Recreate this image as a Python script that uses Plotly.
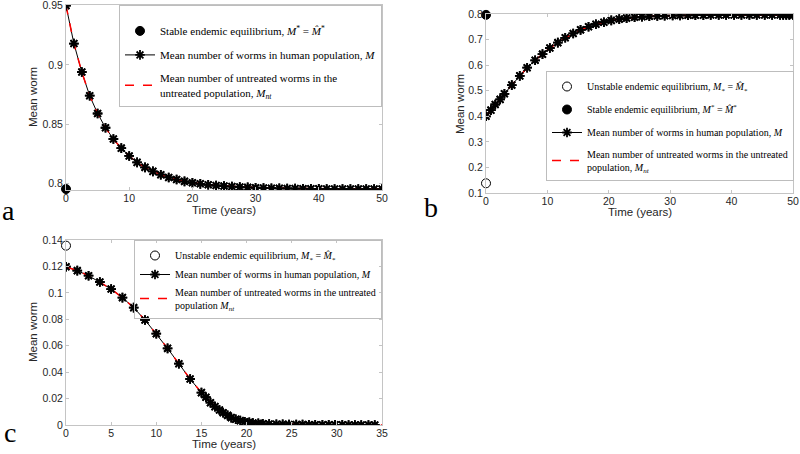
import plotly.graph_objects as go

# ---------------- data ----------------
a_t = [0, 1.25, 2.5, 3.75, 5, 6.25, 7.5, 8.75, 10, 11.25, 12.5, 13.75, 15, 16.25, 17.5, 18.75,
       20, 21.25, 22.5, 23.75, 25, 26.25, 27.5, 28.75, 30, 31.25, 32.5, 33.75, 35, 36.25, 37.5,
       38.75, 40, 41.25, 42.5, 43.75, 45, 46.25, 47.5, 48.75, 50]
a_M = [0.950, 0.918, 0.894, 0.874, 0.859, 0.847, 0.8375, 0.8298, 0.8232, 0.8178, 0.8136, 0.8102,
       0.8074, 0.8051, 0.8033, 0.8018, 0.8006, 0.7997, 0.7989, 0.7983, 0.7978, 0.7974, 0.7970,
       0.7967, 0.7964, 0.7962, 0.7960, 0.7959, 0.7958, 0.7957, 0.7956, 0.7955, 0.7955, 0.7954,
       0.7954, 0.7953, 0.7953, 0.7953, 0.7953, 0.7953, 0.7953]
a_Mstar = 0.7953

b_t = [0, 0.8, 1.5, 2.3, 3.0, 4.2, 5.5, 6.7, 8.0, 9.2, 10.4, 11.7, 12.9, 14.2, 15.4, 16.7, 17.9,
       19.2, 20.4, 21.7, 22.9, 24.2, 25.4, 26.6, 27.9, 29.1, 30.4, 31.6, 32.9, 34.1, 35.4, 36.6,
       37.9, 39.1, 40.4, 41.6, 42.9, 44.1, 45.4, 46.6, 47.9, 48.4, 48.9, 49.4, 50.0]
b_M = [0.400, 0.424, 0.446, 0.466, 0.488, 0.522, 0.558, 0.590, 0.619, 0.643, 0.667, 0.688, 0.707,
       0.724, 0.738, 0.750, 0.760, 0.768, 0.775, 0.780, 0.784, 0.787, 0.789, 0.791, 0.792, 0.793,
       0.794, 0.7945, 0.795, 0.7953, 0.7956, 0.7958, 0.796, 0.7961, 0.7962, 0.7963, 0.7964,
       0.7964, 0.7965, 0.7965, 0.7965, 0.7966, 0.7966, 0.7966, 0.7966]
b_Mstar = 0.7966
b_Mlow = 0.138

c_t = [0, 1.25, 2.5, 3.75, 5, 6.25, 7.5, 8.75, 10, 11.25, 12.5, 13.75, 15.0, 15.5, 16.0, 16.5,
       17.0, 17.4, 17.9, 18.3, 18.8, 19.3, 19.8, 20.3, 20.7, 21.3, 21.8, 22.5, 23.3, 24.0, 24.7,
       25.5, 26.2, 26.9, 27.6, 28.4, 29.1, 29.8, 30.6, 31.3, 32.0, 32.7, 33.5, 34.2]
c_M = [0.1198, 0.1168, 0.1130, 0.1082, 0.1029, 0.0964, 0.0888, 0.0795, 0.0691, 0.0580, 0.0464,
       0.0348, 0.0245, 0.0210, 0.0169, 0.0139, 0.0114, 0.0093, 0.0073, 0.0056, 0.0043, 0.0033,
       0.0025, 0.0020, 0.0015, 0.0012, 0.0010, 0.0008, 0.0006, 0.0005, 0.0004, 0.0003, 0.0003,
       0.0002, 0.0002, 0.0001, 0.0001, 0.0001, 0.0001, 0, 0, 0, 0, 0]
c_tail_t = [35]
c_tail_M = [0]
c_Mlow = 0.1357

a_xticks = [0, 10, 20, 30, 40, 50]
a_yticks = [0.8, 0.85, 0.9, 0.95]
b_xticks = [0, 10, 20, 30, 40, 50]
b_yticks = [0.1, 0.2, 0.3, 0.4, 0.5, 0.6, 0.7, 0.8]
c_xticks = [0, 5, 10, 15, 20, 25, 30, 35]
c_yticks = [0, 0.02, 0.04, 0.06, 0.08, 0.1, 0.12, 0.14]

lab_stable = "Stable endemic equilibrium, <i>M</i><sup>*</sup> = <i>M&#770;</i><sup>*</sup>"
lab_unstable = "Unstable endemic equilibrium, <i>M</i><sub>*</sub> = <i>M&#770;</i><sub>*</sub>"
lab_M = "Mean number of worms in human population, <i>M</i>"
lab_nt_a = "Mean number of untreated worms in the<br>untreated population, <i>M</i><sub><i>nt</i></sub>"
lab_nt_b = "Mean number of untreated worms in the untreated<br>population, <i>M</i><sub><i>nt</i></sub>"
lab_nt_c = "Mean number of untreated worms in the untreated<br>population <i>M</i><sub><i>nt</i></sub>"

W, H = 800, 454
def px(x):
    return x / W
def py(y):
    return 1 - y / H

fig = go.Figure()

STAR = dict(symbol="asterisk", size=8, line=dict(color="black", width=1.8))

def add_panel(xa, ya, leg, t, M, nt_t, nt_M, nt_label, eq_list):
    fig.add_trace(go.Scatter(x=t, y=M, mode="lines+markers", name=lab_M,
                             line=dict(color="black", width=1), marker=STAR,
                             xaxis=xa, yaxis=ya, legend=leg, legendgroup=leg + "M", legendrank=3))
    fig.add_trace(go.Scatter(x=nt_t, y=nt_M, mode="lines", name=nt_label,
                             line=dict(color="red", width=1.5, dash="dash"),
                             xaxis=xa, yaxis=ya, legend=leg, legendgroup=leg + "N", legendrank=4))
    fig.add_trace(go.Scatter(x=t, y=M, mode="markers", showlegend=False, marker=STAR,
                             xaxis=xa, yaxis=ya, hoverinfo="skip"))
    for val, kind in eq_list:
        if kind == "stable":
            mk = dict(symbol="circle", size=9, color="black", line=dict(color="black", width=1))
            nm, rk = lab_stable, 2
        else:
            mk = dict(symbol="circle-open", size=9, color="black", line=dict(color="black", width=1))
            nm, rk = lab_unstable, 1
        fig.add_trace(go.Scatter(x=[t[0]], y=[val], mode="markers", name=nm, marker=mk,
                                 cliponaxis=False, xaxis=xa, yaxis=ya, legend=leg,
                                 legendgroup=leg + kind, legendrank=rk))

add_panel("x", "y", "legend", a_t, a_M, a_t, a_M, lab_nt_a, [(a_Mstar, "stable")])
add_panel("x2", "y2", "legend2", b_t, b_M, b_t, b_M, lab_nt_b, [(b_Mlow, "unstable"), (b_Mstar, "stable")])
add_panel("x3", "y3", "legend3", c_t, c_M, c_t + c_tail_t, c_M + c_tail_M, lab_nt_c, [(c_Mlow, "unstable")])

SANS = "Liberation Sans, Arial, sans-serif"
SERIF = "Liberation Serif, Times New Roman, serif"
axis_common = dict(showline=True, linecolor="#c4c4c4", linewidth=1, mirror="ticks",
                   ticks="inside", ticklen=3, tickcolor="#c4c4c4", showgrid=False,
                   zeroline=False, automargin=False, ticklabeloverflow="allow",
                   tickfont=dict(family=SANS, size=10.5, color="#262626"))
xaxis_extra = dict(ticklabelstandoff=-2)

fig.update_layout(
    template="none",
    width=W, height=H, margin=dict(l=0, r=0, t=0, b=0, pad=0),
    paper_bgcolor="white", plot_bgcolor="white", showlegend=True,
    xaxis=dict(domain=[px(66), px(382)], range=[0, 50], tickvals=a_xticks, anchor="y",
               **xaxis_extra, **axis_common),
    yaxis=dict(domain=[py(190), py(5)], range=[0.7945, 0.9505], tickvals=a_yticks,
               ticktext=["0.8", "0.85", "0.9", "0.95"], anchor="x", **axis_common),
    xaxis2=dict(domain=[px(486), px(793)], range=[0, 50], tickvals=b_xticks, anchor="y2",
                **xaxis_extra, **axis_common),
    yaxis2=dict(domain=[py(193), py(14)], range=[0.1, 0.8], tickvals=b_yticks, anchor="x2", **axis_common),
    xaxis3=dict(domain=[px(66), px(382)], range=[0, 35], tickvals=c_xticks, anchor="y3",
                **xaxis_extra, **axis_common),
    yaxis3=dict(domain=[py(425), py(240)], range=[0, 0.14], tickvals=c_yticks,
                ticktext=["0", "0.02", "0.04", "0.06", "0.08", "0.1", "0.12", "0.14"], anchor="x3",
                **axis_common),
)

def leg_style(size, gap, title_size=None, bg="white"):
    d = dict(bgcolor=bg, bordercolor="#bdbdbd", borderwidth=1,
             font=dict(family=SERIF, size=size, color="black"),
             traceorder="grouped", tracegroupgap=gap, itemwidth=30,
             xanchor="right", yanchor="top")
    if title_size:
        d["title"] = dict(text=" ", font=dict(size=title_size))
    return d

fig.update_layout(
    legend=dict(x=px(382), y=py(5), **leg_style(11, 5, 8)),
    legend2=dict(x=px(794), y=py(71), **leg_style(10, 4)),
    legend3=dict(x=px(382), y=py(240), **leg_style(10, 0, bg="rgba(255,255,255,0)")),
)

# axis titles
for txt, x, y, ang in [("Time (years)", 224, 210, 0), ("Time (years)", 640, 212, 0),
                       ("Time (years)", 224, 444, 0),
                       ("Mean worm", 33, 97, -90), ("Mean worm", 460, 104, -90),
                       ("Mean worm", 33, 332, -90)]:
    fig.add_annotation(text=txt, x=px(x), y=py(y), xref="paper", yref="paper",
                       xanchor="center", yanchor="middle", showarrow=False, textangle=ang,
                       font=dict(family=SANS, size=11.5, color="#262626"))

# panel labels
for txt, x, ybot in [("a", 8, 228), ("b", 431, 225), ("c", 10, 450)]:
    fig.add_annotation(text=txt, x=px(x), y=py(ybot), xref="paper", yref="paper",
                       xanchor="center", yanchor="bottom", showarrow=False,
                       font=dict(family=SERIF, size=28, color="black"))

fig.write_html("out.html", config={"displayModeBar": False},
               post_script="document.body.style.margin='0';document.body.style.overflow='hidden';")
